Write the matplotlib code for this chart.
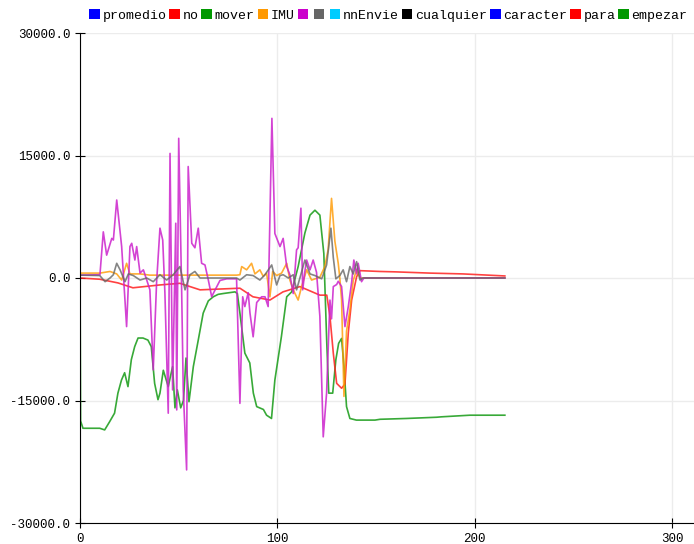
import matplotlib
matplotlib.use("Agg")
import matplotlib.pyplot as plt
from matplotlib.patches import Patch

# legend entries (two of them have no name)
legend_labels = ["promedio", "no", "mover", "IMU", "", "", "nnEnvie",
                 "cualquier", "caracter", "para", "empezar"]
legend_colors = ["#0000ff", "#ff0000", "#009900", "#ff9900", "#cc00cc", "#666666",
                 "#00ccff", "#000000", "#0000ff", "#ff0000", "#009900"]

# mover (green)
green_x = [0, 0.3, 1.5, 10, 12.5, 15, 17.5, 19.2, 21, 22.6, 24.3, 26, 27.7, 29.4, 31.9,
           34.4, 36.1, 37.8, 39.5, 40.5, 42.2, 44.7, 46.9, 48.1, 49.3, 51, 52.4, 53.7,
           55.2, 57.4, 59.9, 62.4, 65, 67.5, 70, 72.6, 78.5, 79.7, 81, 83.5, 86, 87.8,
           89.5, 92.9, 94.5, 97, 98.7, 102, 104.7, 107.2, 110.5, 113.9, 116.5, 119,
           121.5, 123.5, 125, 126, 128, 129.6, 131, 132.5, 133.7, 135, 136.7, 140,
           149.4, 152, 165.4, 180.6, 183, 197.5, 215.2]
green_y = [1500, -17500, -18400, -18400, -18600, -17600, -16550, -14100, -12500, -11600,
           -13300, -10000, -8400, -7350, -7350, -7600, -8400, -12900, -14900, -14100,
           -11300, -13300, -10850, -15900, -13700, -15900, -15000, -9800, -15150, -10850,
           -7600, -4300, -2800, -2300, -2000, -1900, -1700, -1900, -4300, -9200, -10400,
           -14100, -15750, -16100, -16800, -17200, -12500, -7200, -2300, -1700, 1400,
           5500, 7700, 8300, 7700, 3000, -8000, -14100, -14100, -10000, -8000, -7400,
           -10850, -15750, -17200, -17400, -17400, -17300, -17200, -17050, -17000,
           -16800, -16800]

# no (red)
red_x = [0, 10, 19.2, 26.8, 40.5, 50.6, 60.8, 81, 87.6, 96.2, 102.8, 111.4, 121.5, 125,
         126.6, 128.3, 130, 132.5, 134.2, 135.9, 137.6, 140.1, 141.8, 151.9, 160, 177.2,
         193.9, 211, 215.2]
red_y = [0, -150, -600, -1200, -850, -650, -1450, -1250, -2300, -2700, -1700, -1050,
         -2100, -2100, -4700, -9200, -12900, -13500, -13000, -6700, -2700, 150, 900,
         800, 750, 600, 500, 300, 250]

# IMU (orange)
orange_x = [0, 10.1, 15.2, 18.6, 21.1, 23.6, 25.3, 30.4, 35.4, 79.3, 81, 81.9, 84.4,
            86.9, 88.6, 91.1, 92.8, 94.5, 96.2, 97.6, 99.6, 102.1, 104.7, 106.3, 108,
            110.5, 112.3, 114.8, 117.3, 121.5, 124, 125.7, 127.4, 129.1, 130.8, 131.6,
            132.5, 133.7, 135, 136.7, 138.4, 140.1, 141.8, 215.2]
orange_y = [600, 600, 800, 500, -250, 1800, 500, 500, 350, 350, 400, 1400, 1000, 1800,
            500, 1000, 200, 600, -2300, 800, 300, 600, 1800, -250, -1450, -2700, -1000,
            1000, -250, 100, 1400, 3500, 9750, 4500, 1800, 0, -2700, -14500, -6500,
            -3900, -300, 1000, 0, 0]

# magenta
mag_x = [0, 10.1, 11.8, 13.5, 16.1, 16.9, 18.6, 21.1, 23.6, 25.3, 26.2, 27.8, 28.7,
         30.4, 32.1, 33.8, 35.4, 37.1, 38.8, 40.5, 41.9, 43, 44.7, 45.6, 46.9, 48.5, 49,
         50, 51.5, 52.3, 54, 54.8, 56.6, 58.2, 59.9, 61.6, 63.3, 65, 66.7, 67.5, 70.9,
         74.3, 79.3, 81, 82.4, 83.5, 85.2, 86.1, 87.7, 89.5, 92, 93.7, 95.3, 97.2, 98.7,
         101.3, 102.9, 104.7, 106.3, 108, 109.7, 110.5, 111.9, 112.8, 113.9, 114.8,
         116.5, 118.1, 119.8, 121.5, 123.2, 124.9, 126.6, 127.4, 128.3, 130, 130.8,
         132.5, 134.2, 135.9, 137.6, 138.7, 140.1, 140.9, 142.6, 143.8, 215.2]
mag_y = [350, 400, 5650, 2800, 4850, 4650, 9550, 3850, -5950, 3850, 4250, 2200, 3850,
         600, 1000, -250, -1450, -11250, -500, 6100, 4650, -1800, -16550, 15250, -13700,
         6700, -16150, 17100, -1700, -13700, -23500, 13650, 4250, 3700, 6100, 1800, 1600,
         -250, -2300, -1900, -300, -100, -100, -15350, -2300, -3500, -1800, -4300, -7200,
         -3000, -2300, -2300, -3500, 19550, 5450, 3850, 4850, 1400, 400, -1900, 3450,
         3700, 8550, -1450, 800, 2200, 1000, 2200, 700, -4700, -19450, -14100, -2700,
         -5000, -1050, -800, -400, -1050, -5950, -3500, -500, 2200, 500, 1800, -450, 0, 0]

# gray
gray_x = [0, 10, 12.7, 15.2, 16.9, 18.6, 20.3, 22.8, 24.5, 27, 30.4, 33.8, 37.1, 40.5,
          43.9, 47.2, 50.6, 53.2, 55.7, 58.2, 60.8, 79.3, 81, 84.4, 87.7, 91.1, 93.7,
          97.1, 99.6, 101.3, 102.9, 105.5, 108, 109.7, 112.3, 113.9, 116.5, 119, 122.4,
          123.2, 124.9, 127.1, 128.3, 129.6, 131.6, 133.3, 135, 136.7, 138.4, 140.1,
          141.8, 143.3, 215.2]
gray_y = [350, 300, -450, 0, 400, 1800, 1000, -450, 500, 300, -250, 0, -450, 400, -250,
          400, 1400, -1450, 400, 800, 0, 0, -250, 400, 300, -250, 400, 1600, -850, 300,
          400, 0, 400, -1450, 800, 2200, 500, 300, -100, 400, 1600, 6100, 2500, -100,
          300, 1000, -450, 1400, 500, 2000, -250, 0, 0]

fig = plt.figure(figsize=(6.94, 5.44), dpi=100)
ax = fig.add_axes([80 / 694, 21 / 544, 614 / 694, 490 / 544])

ax.plot(green_x, green_y, color="#22a022", lw=1.2, alpha=0.9)
ax.plot(red_x, red_y, color="#ff2020", lw=1.2, alpha=0.85)
ax.plot(orange_x, orange_y, color="#ff9900", lw=1.2, alpha=0.8)
ax.plot(mag_x, mag_y, color="#cc22cc", lw=1.2, alpha=0.85)
ax.plot(gray_x, gray_y, color="#666666", lw=1.2, alpha=0.8)

ax.set_xlim(0, 311)
ax.set_ylim(-30000, 30000)
ax.set_xticks([0, 100, 200, 300])
ax.set_yticks([-30000, -15000, 0, 15000, 30000])
ax.set_yticklabels(["%.1f" % v for v in [-30000, -15000, 0, 15000, 30000]])
ax.grid(True, color="#ececec", lw=1)
ax.set_axisbelow(True)
for s in ["top", "right"]:
    ax.spines[s].set_visible(False)
ax.tick_params(direction="inout", length=7, labelsize=9, colors="black")
for lab in ax.get_xticklabels() + ax.get_yticklabels():
    lab.set_family("Liberation Mono")

handles = [Patch(facecolor=c, edgecolor="none") for c in legend_colors]
fig.legend(handles, legend_labels, loc="upper left", bbox_to_anchor=(80 / 694, 1.0),
           ncol=11, frameon=False, handlelength=0.8, handleheight=0.8,
           handletextpad=0.2, columnspacing=0.22, borderaxespad=0.3,
           prop={"family": "Liberation Mono", "size": 9.5})

fig.savefig("out.png", dpi=100)
